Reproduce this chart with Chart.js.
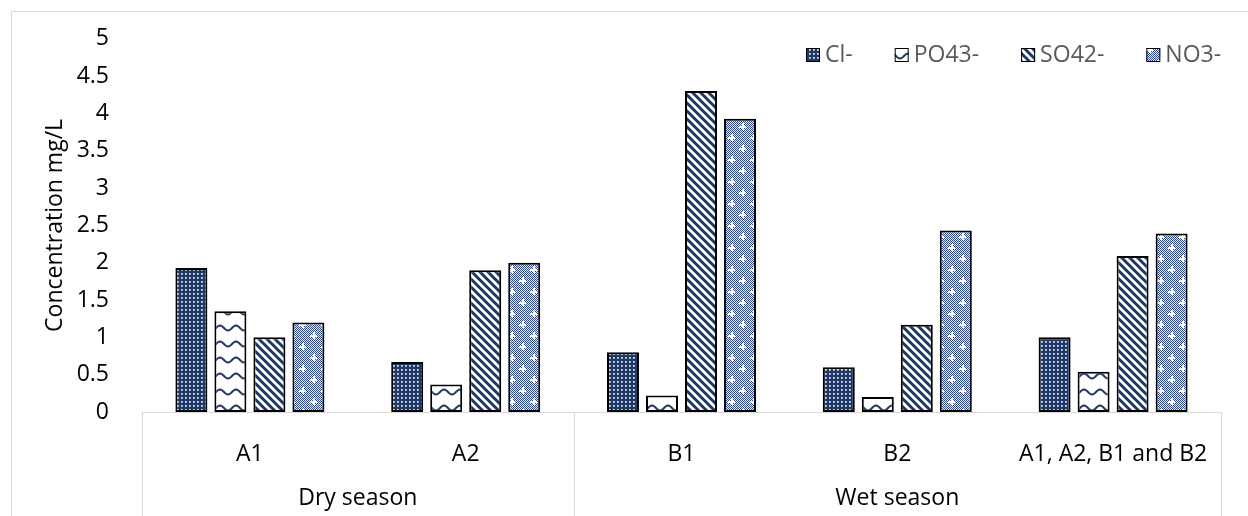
<!DOCTYPE html>
<html>
<head>
<meta charset="utf-8">
<script src="https://cdn.jsdelivr.net/npm/chart.js@4.4.1/dist/chart.umd.min.js"></script>
<style>
  html, body { margin: 0; padding: 0; background: #fff; }
</style>
</head>
<body>
<canvas id="chart" width="1248" height="516"></canvas>
<script>
// ---------------------------------------------
// Data
// ---------------------------------------------
const categories = ["A1", "A2", "B1", "B2", "A1, A2, B1 and B2"];
const seasons = ["Dry season", "Wet season"];
const seasonSpans = [2, 3]; // how many categories each season covers
const ions = ["Cl-", "PO43-", "SO42-", "NO3-"];

const clValues = [1.93, 0.67, 0.80, 0.60, 1.00];
const po4Values = [1.35, 0.37, 0.22, 0.20, 0.54];
const so4Values = [1.00, 1.90, 4.30, 1.17, 2.09];
const no3Values = [1.20, 2.00, 3.93, 2.43, 2.39];

const yMin = 0;
const yMax = 5;
const yStep = 0.5;
const yTitle = "Concentration mg/L";

// ---------------------------------------------
// Look
// ---------------------------------------------
const NAVY = "#1f3864";
const FONT_FAMILY = '"Open Sans", "Noto Sans", sans-serif';
const FONT_SIZE = 23;

Chart.defaults.font.family = FONT_FAMILY;
Chart.defaults.font.size = FONT_SIZE;

// small helper: build a repeating pattern from a drawn tile
function tile(w, h, draw) {
  const c = document.createElement("canvas");
  c.width = w;
  c.height = h;
  const g = c.getContext("2d");
  draw(g, w, h);
  return g.createPattern(c, "repeat");
}

// Cl- : navy with small light dots
const dotsFill = tile(4, 4, (g) => {
  g.fillStyle = NAVY;
  g.fillRect(0, 0, 4, 4);
  g.fillStyle = "#9eabc8";
  g.fillRect(1, 1, 2, 2);
  g.fillStyle = "#eef1f6";
  g.fillRect(1, 1, 1, 1);
});

// PO43- : white with navy waves
const waveFill = tile(16, 16, (g) => {
  g.fillStyle = "#fff";
  g.fillRect(0, 0, 16, 16);
  g.strokeStyle = NAVY;
  g.lineWidth = 2;
  g.beginPath();
  for (let x = -1; x <= 17; x++) {
    const y = 8 + 2.5 * Math.sin((x / 16) * 2 * Math.PI);
    if (x === -1) g.moveTo(x, y);
    else g.lineTo(x, y);
  }
  g.stroke();
});

// SO42- : wide downward diagonal stripes
const stripeFill = tile(8, 8, (g) => {
  g.fillStyle = "#fff";
  g.fillRect(0, 0, 8, 8);
  g.strokeStyle = NAVY;
  g.lineWidth = 3;
  g.beginPath();
  for (const k of [-8, 0, 8]) {
    g.moveTo(k - 4, -4);
    g.lineTo(k + 12, 12);
  }
  g.stroke();
});

// NO3- : fine checker with white plus marks
const confettiFill = tile(22, 22, (g) => {
  for (let y = 0; y < 22; y++) {
    for (let x = 0; x < 22; x++) {
      g.fillStyle = (x + y) % 2 ? "#e6eaf2" : "#2f4a86";
      g.fillRect(x, y, 1, 1);
    }
  }
  g.fillStyle = "#fff";
  for (const [px, py] of [[5, 5], [16, 16]]) {
    g.fillRect(px - 3, py, 7, 2);
    g.fillRect(px, py - 3, 2, 7);
  }
});

const series = [clValues, po4Values, so4Values, no3Values];
const fills = [dotsFill, waveFill, stripeFill, confettiFill];

// ---------------------------------------------
// Frame, season row under the axis, and legend
// ---------------------------------------------
const extras = {
  id: "extras",
  beforeDraw(chart) {
    const ctx = chart.ctx;
    ctx.save();
    ctx.strokeStyle = "#d9d9d9";
    ctx.lineWidth = 1;
    ctx.beginPath();
    ctx.moveTo(11.5, chart.height);
    ctx.lineTo(11.5, 11.5);
    ctx.lineTo(chart.width, 11.5);
    ctx.stroke();
    ctx.restore();
  },
  afterDraw(chart) {
    const { ctx, chartArea } = chart;
    const xs = chart.scales.x;
    const half = (xs.getPixelForValue(1) - xs.getPixelForValue(0)) / 2;

    ctx.save();
    ctx.strokeStyle = "#d9d9d9";
    ctx.lineWidth = 1;
    ctx.font = FONT_SIZE + "px " + FONT_FAMILY;
    ctx.fillStyle = "#000";
    ctx.textAlign = "center";
    ctx.textBaseline = "middle";

    let start = 0;
    const edges = [xs.getPixelForValue(0) - half];
    seasons.forEach((name, i) => {
      const left = xs.getPixelForValue(start) - half;
      const right = xs.getPixelForValue(start + seasonSpans[i] - 1) + half;
      edges.push(right);
      ctx.fillText(name, (left + right) / 2, 498);
      start += seasonSpans[i];
    });
    edges.forEach((px) => {
      const x = Math.round(px) + 0.5;
      ctx.beginPath();
      ctx.moveTo(x, chartArea.bottom);
      ctx.lineTo(x, chart.height);
      ctx.stroke();
    });

    // legend, inside the plot at the top right
    let lx = 806;
    const ly = 55;
    ctx.textAlign = "left";
    ions.forEach((name, i) => {
      ctx.fillStyle = fills[i];
      ctx.fillRect(lx, ly - 7, 14, 14);
      ctx.strokeStyle = "#000";
      ctx.strokeRect(lx + 0.5, ly - 6.5, 13, 13);
      ctx.fillStyle = "#595959";
      ctx.fillText(name, lx + 19, ly);
      lx += 19 + ctx.measureText(name).width + 42;
    });
    ctx.restore();
  },
};

// ---------------------------------------------
// Chart
// ---------------------------------------------
new Chart(document.getElementById("chart"), {
  type: "bar",
  data: {
    labels: categories,
    datasets: ions.map((name, i) => ({
      label: name,
      data: series[i],
      backgroundColor: fills[i],
      borderColor: "#000",
      borderWidth: 2,
      borderSkipped: false,
      categoryPercentage: 0.723,
      barPercentage: 0.82,
    })),
  },
  options: {
    responsive: false,
    animation: false,
    layout: { padding: { top: 35, right: 27, left: 0, bottom: 0 } },
    plugins: {
      legend: { display: false },
      tooltip: { enabled: false },
    },
    scales: {
      x: {
        grid: { display: false },
        border: { display: true, color: "#d9d9d9", width: 1 },
        ticks: { color: "#000", padding: 21, maxRotation: 0, autoSkip: false },
        afterFit(scale) {
          scale.height = 104;
        },
      },
      y: {
        min: yMin,
        max: yMax,
        grid: { display: false },
        border: { display: false },
        ticks: {
          stepSize: yStep,
          padding: 25,
          color: "#000",
          callback: (v) => String(+v.toFixed(1)),
        },
        title: {
          display: true,
          text: yTitle,
          color: "#000",
          padding: { top: 42, bottom: 0 },
        },
        afterFit(scale) {
          scale.width = 142;
        },
      },
    },
  },
  plugins: [extras],
});
</script>
</body>
</html>
